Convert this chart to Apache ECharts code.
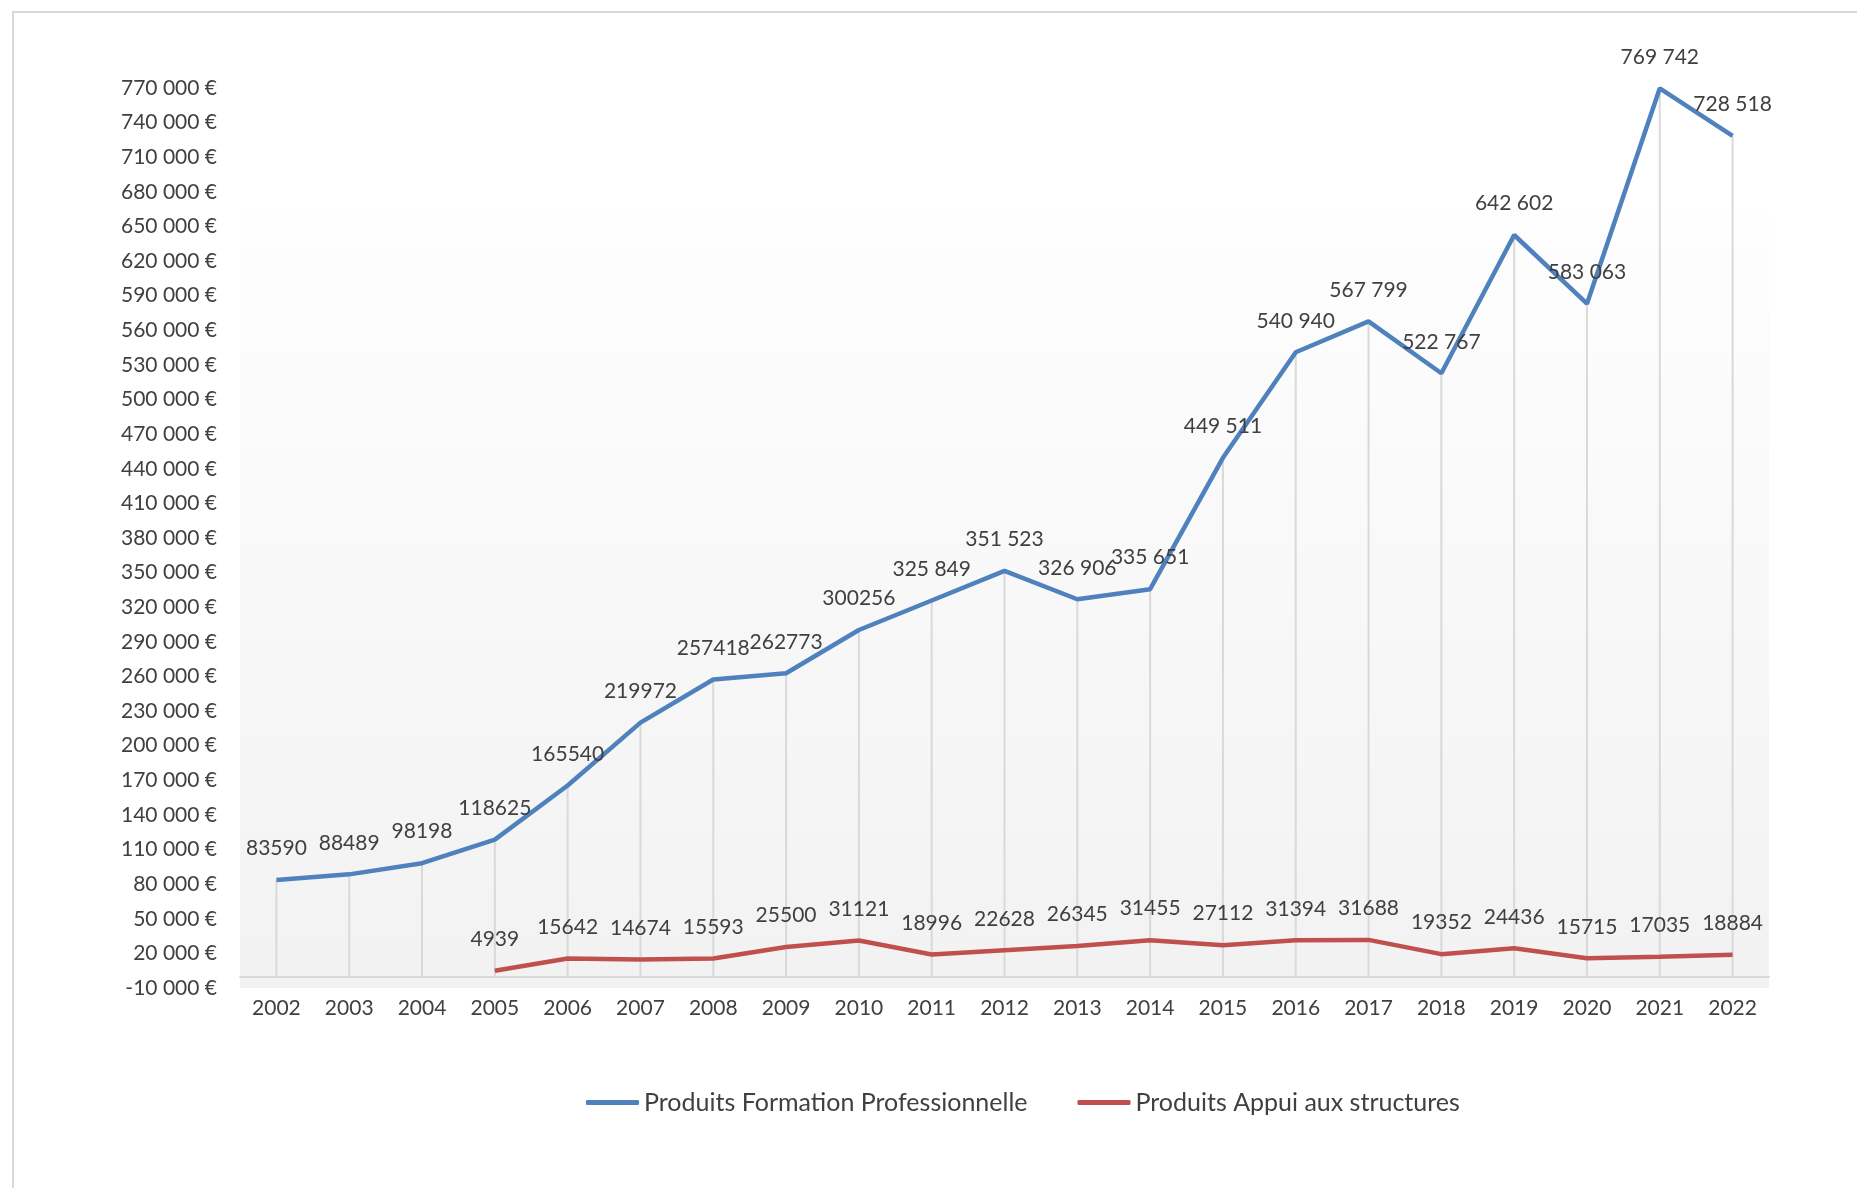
<!DOCTYPE html>
<html>
<head>
<meta charset="utf-8">
<title>Produits</title>
<script src="https://cdn.jsdelivr.net/npm/echarts@6/dist/echarts.min.js"></script>
<style>
  html, body { margin: 0; padding: 0; background: #fff; }
  #chart { width: 1857px; height: 1188px; }
  /* cadre gris du graphique */
  #frame {
    position: absolute; left: 12px; top: 11px; right: -10px; bottom: -10px;
    border: 2px solid #d9d9d9; pointer-events: none;
  }
</style>
</head>
<body>
<div id="chart"></div>
<div id="frame"></div>
<script>
// années
const years = ['2002', '2003', '2004', '2005', '2006', '2007', '2008', '2009', '2010', '2011', '2012',
  '2013', '2014', '2015', '2016', '2017', '2018', '2019', '2020', '2021', '2022']
// Produits Formation Professionnelle
const formation = [83590, 88489, 98198, 118625, 165540, 219972, 257418, 262773, 300256, 325849, 351523,
  326906, 335651, 449511, 540940, 567799, 522767, 642602, 583063, 769742, 728518]
// Produits Appui aux structures (pas de valeur avant 2005)
const appui = [null, null, null, 4939, 15642, 14674, 15593, 25500, 31121, 18996, 22628,
  26345, 31455, 27112, 31394, 31688, 19352, 24436, 15715, 17035, 18884]
// axe des valeurs
const yMin = -10000
const yMax = 770000
const yStep = 30000
// à partir de 2011 les étiquettes bleues sont écrites avec séparateur
const firstSpacedIndex = 9

const textColor = '#404040'
const fontFamily = 'Lato'

function spaced(v) {
  const s = String(Math.abs(v)).replace(/\B(?=(\d{3})+(?!\d))/g, ' ')
  return (v < 0 ? '-' : '') + s
}

const chart = echarts.init(document.getElementById('chart'))

const dataLabel = {
  show: true,
  position: 'top',
  distance: 21,
  fontSize: 21,
  color: textColor,
  fontFamily: fontFamily,
}

const option = {
  animation: false,
  textStyle: { fontFamily: fontFamily, color: textColor },
  grid: {
    left: 240,
    right: 88,
    top: 88,
    bottom: 200,
    show: true,
    borderWidth: 0,
    backgroundColor: new echarts.graphic.LinearGradient(0, 0, 0, 1, [
      { offset: 0, color: '#ffffff' },
      { offset: 0.135, color: '#ffffff' },
      { offset: 0.136, color: '#fefefe' },
      { offset: 1, color: '#f2f2f2' },
    ]),
  },
  legend: {
    data: ['Produits Formation Professionnelle', 'Produits Appui aux structures'],
    left: 581,
    top: 1085,
    icon: 'roundRect',
    itemWidth: 53,
    itemHeight: 5,
    itemGap: 50,
    textStyle: { fontSize: 25, color: textColor, fontFamily: fontFamily },
  },
  xAxis: {
    type: 'category',
    data: years,
    boundaryGap: true,
    axisLine: { show: true, onZero: true, lineStyle: { color: '#d9d9d9', width: 2 } },
    axisTick: { show: false },
    axisLabel: { margin: 10, fontSize: 21, color: textColor, fontFamily: fontFamily },
    splitLine: { show: false },
  },
  yAxis: {
    type: 'value',
    min: yMin,
    max: yMax,
    interval: yStep,
    axisLine: { show: false },
    axisTick: { show: false },
    splitLine: { show: false },
    axisLabel: {
      margin: 23,
      fontSize: 21,
      color: textColor,
      fontFamily: fontFamily,
      formatter: v => spaced(v) + ' €',
    },
  },
  series: [
    {
      // lignes de projection verticales
      name: 'drop',
      type: 'bar',
      data: formation,
      barWidth: 2,
      silent: true,
      z: 1,
      itemStyle: { color: '#d9d9d9' },
      label: { show: false },
    },
    {
      name: 'Produits Formation Professionnelle',
      type: 'line',
      data: formation,
      symbol: 'circle',
      symbolSize: 0,
      showSymbol: true,
      showAllSymbol: true,
      z: 3,
      lineStyle: { color: '#4f81bd', width: 4.5 },
      itemStyle: { color: '#4f81bd' },
      label: Object.assign({}, dataLabel, {
        formatter: p => (p.dataIndex >= firstSpacedIndex ? spaced(p.value) : String(p.value)),
      }),
    },
    {
      name: 'Produits Appui aux structures',
      type: 'line',
      data: appui,
      symbol: 'circle',
      symbolSize: 0,
      showSymbol: true,
      showAllSymbol: true,
      z: 3,
      lineStyle: { color: '#c0504d', width: 4.5 },
      itemStyle: { color: '#c0504d' },
      label: Object.assign({}, dataLabel, {
        formatter: p => String(p.value),
      }),
    },
  ],
}

chart.setOption(option)
</script>
</body>
</html>
